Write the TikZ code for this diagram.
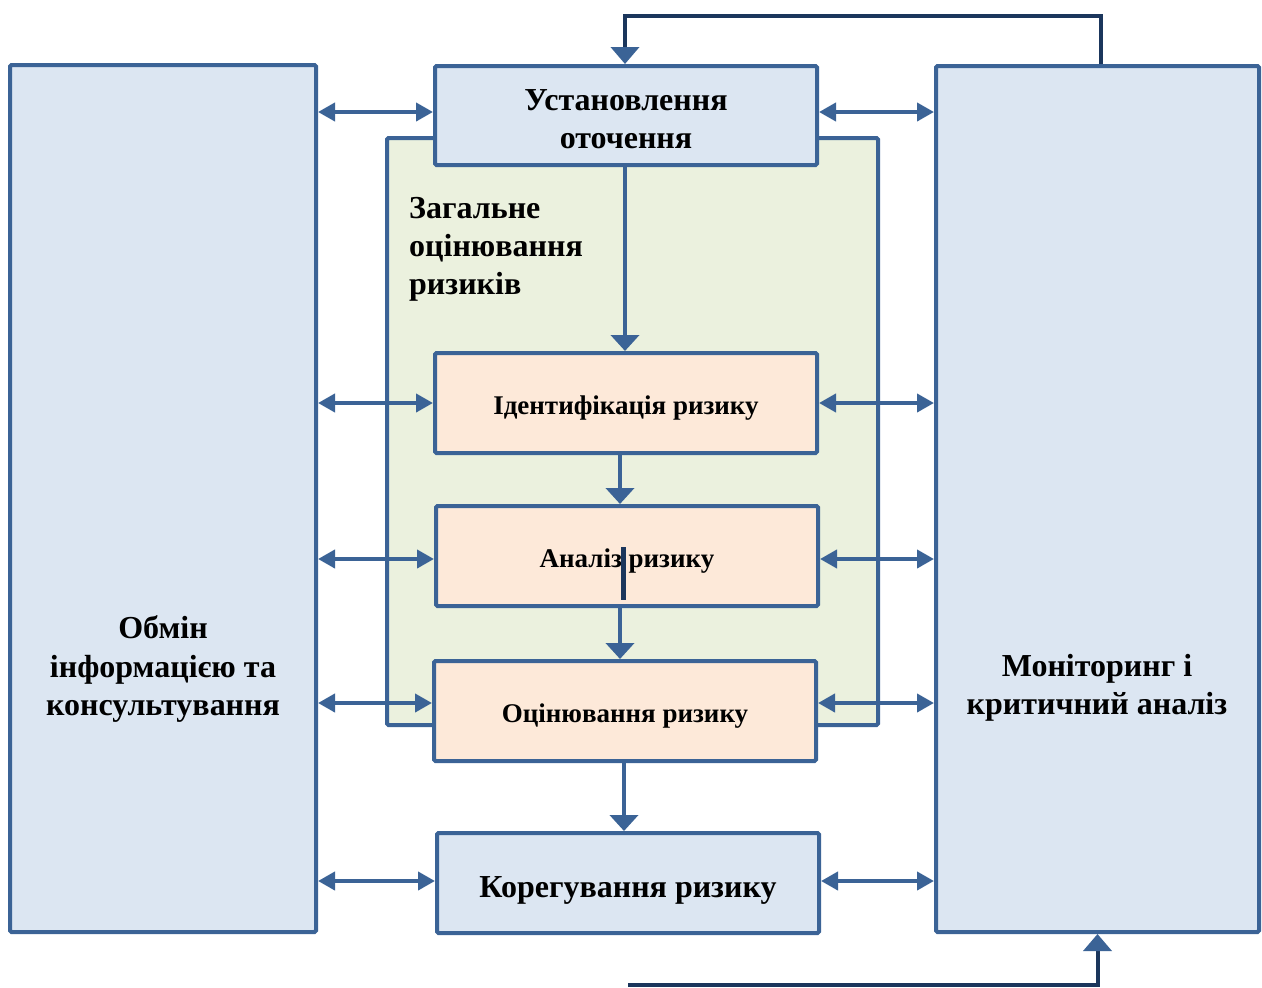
\documentclass[tikz,border=0pt]{standalone}
\usepackage{fontspec}
\setmainfont{Liberation Serif}
\usetikzlibrary{arrows.meta,calc}
\definecolor{bordc}{HTML}{3B6396}
\definecolor{navy}{HTML}{1B365C}
\definecolor{bluef}{HTML}{DCE6F2}
\definecolor{greenf}{HTML}{EBF1DE}
\definecolor{peachf}{HTML}{FDE9D9}
\tikzset{
  box/.style={draw=bordc, line width=4pt, rounded corners=1.5pt, inner sep=0pt},
  bluebox/.style={box, fill=bluef},
  peachbox/.style={box, fill=peachf},
  bigtxt/.style={inner sep=0pt, align=center, font=\bfseries\fontsize{32}{38.5}\selectfont},
  smalltxt/.style={inner sep=0pt, align=center, font=\bfseries\fontsize{27}{32}\selectfont},
  dbl/.style={draw=bordc, line width=4pt, {Triangle[width=18pt,length=17pt]}-{Triangle[width=18pt,length=17pt]}},
  down/.style={draw=bordc, line width=4pt, -{Triangle[width=28pt,length=16pt]}},
  fb/.style={draw=navy, line width=4pt, -{Triangle[width=28pt,length=17pt,color=bordc]}},
}
\begin{document}
\begin{tikzpicture}[x=1pt,y=-1pt]
\useasboundingbox (0,0) rectangle (1262,988);
% container
\node[box, fill=greenf, minimum width=491pt, minimum height=587pt] (G) at (632.5,431.5) {};
\node[anchor=north west, align=left, font=\bfseries\fontsize{32}{38}\selectfont, inner sep=0pt] (Gt) at (409,197) {Загальне\\оцінювання\\ризиків};
% side boxes
\node[bluebox, minimum width=306pt, minimum height=867pt] (L) at (163,498.5) {};
\node[bigtxt] (Lt) at (163,669) {Обмін\\інформацією та\\консультування};
\node[bluebox, minimum width=323pt, minimum height=866pt] (R) at (1097.5,499) {};
\node[bigtxt] (Rt) at (1097,688) {Моніторинг і\\критичний аналіз};
% central boxes
\node[bluebox, minimum width=382pt, minimum height=99pt] (T) at (626,115.5) {};
\node[bigtxt] (Tt) at (626,119) {Установлення\\оточення};
\node[peachbox, minimum width=382pt, minimum height=100pt] (I) at (626,403) {};
\node[smalltxt] (It) at (626,408) {Ідентифікація ризику};
\node[peachbox, minimum width=382pt, minimum height=100pt] (A) at (627,556) {};
\node[smalltxt] (At) at (627,561) {Аналіз ризику};
\node[peachbox, minimum width=382pt, minimum height=100pt] (O) at (625,711) {};
\node[smalltxt] (Ot) at (625,716) {Оцінювання ризику};
\node[bluebox, minimum width=382pt, minimum height=100pt] (K) at (628,883) {};
\node[bigtxt] (Kt) at (628,890) {Корегування ризику};
% cursor mark
\draw[navy, line width=5pt] (623,547) -- (623,600);
% vertical flow
\draw[down] (T.south -| 625,0) -- (I.north -| 625,0);
\draw[down] (I.south -| 620,0) -- (A.north -| 620,0);
\draw[down] (A.south -| 620,0) -- (O.north -| 620,0);
\draw[down] (O.south -| 624,0) -- (K.north -| 624,0);
% horizontal double arrows
\draw[dbl] (L.east |- 0,112) -- (T.west |- 0,112);
\draw[dbl] (T.east |- 0,112) -- (R.west |- 0,112);
\draw[dbl] (L.east |- I.west) -- (I.west);
\draw[dbl] (I.east) -- (R.west |- I.east);
\draw[dbl] (L.east |- 0,559) -- (A.west |- 0,559);
\draw[dbl] (A.east |- 0,559) -- (R.west |- 0,559);
\draw[dbl] (L.east |- 0,703) -- (O.west |- 0,703);
\draw[dbl] (O.east |- 0,703) -- (R.west |- 0,703);
\draw[dbl] (L.east |- 0,881) -- (K.west |- 0,881);
\draw[dbl] (K.east |- 0,881) -- (R.west |- 0,881);
% feedback loops
\coordinate (fbt) at (1101,16);
\coordinate (fbb) at (628,985);
\draw[fb] (R.north -| fbt) -- (fbt) -| (T.north -| 625,0);
\draw[fb] (fbb) -| (R.south);
\end{tikzpicture}
\end{document}
